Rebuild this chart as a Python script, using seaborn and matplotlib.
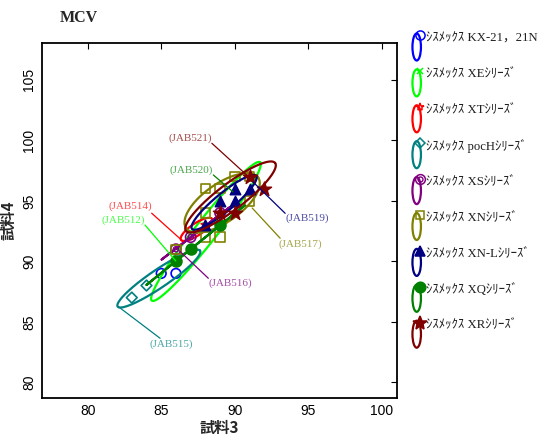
import numpy as np
import matplotlib
matplotlib.use("Agg")
import matplotlib.pyplot as plt
import seaborn as sns
from matplotlib.lines import Line2D
from matplotlib.patches import Ellipse
from matplotlib.transforms import Affine2D

# ---- series ---------------------------------------------------------------
series_keys = ["KX21", "XE", "XT", "pocH", "XS", "XN", "XNL", "XQ", "XR"]
legend_labels = [
    "ｼｽﾒｯｸｽ KX-21，21N",
    "ｼｽﾒｯｸｽ XEｼﾘｰｽﾞ",
    "ｼｽﾒｯｸｽ XTｼﾘｰｽﾞ",
    "ｼｽﾒｯｸｽ pocHｼﾘｰｽﾞ",
    "ｼｽﾒｯｸｽ XSｼﾘｰｽﾞ",
    "ｼｽﾒｯｸｽ XNｼﾘｰｽﾞ",
    "ｼｽﾒｯｸｽ XN-Lｼﾘｰｽﾞ",
    "ｼｽﾒｯｸｽ XQｼﾘｰｽﾞ",
    "ｼｽﾒｯｸｽ XRｼﾘｰｽﾞ",
]
series_colors = ["#0000ff", "#00ff00", "#ff0000", "#008080", "#800080",
                 "#808000", "#000080", "#008000", "#800000"]

# sample 3 / sample 4 values per series
kx21_x = [85, 86]
kx21_y = [89, 89]
xe_x = [87, 89, 88]
xe_y = [91, 93, 93]
xt_x = [88, 89]
xt_y = [93, 93]
poch_x = [83, 84]
poch_y = [87, 88]
xs_x = [86, 87, 89]
xs_y = [91, 92, 94]
xn_x = [86, 88, 89, 88, 88, 89, 90, 91, 91]
xn_y = [91, 92, 92, 94, 96, 96, 97, 95, 97]
xnl_x = [88, 89, 90, 90, 91]
xnl_y = [93, 95, 95, 96, 96]
xq_x = [86, 87, 89]
xq_y = [90, 91, 93]
xr_x = [89, 90, 91, 92]
xr_y = [94, 94, 97, 96]

# confidence ellipses: centre + two conjugate semi-diameters (data units)
ell_keys = ["XE", "XT", "pocH", "XS", "XN", "XNL", "XQ", "XR"]
ell_cx = [88.04, 87.40, 84.84, 87.33, 89.14, 89.27, 87.33, 89.71]
ell_cy = [92.47, 92.64, 88.57, 92.30, 94.83, 94.87, 91.33, 95.32]
ell_ux = [3.68, 1.054, 2.80, 2.30, 2.45, 2.18, 3.33, 3.03]
ell_uy = [5.72, 0.868, 2.31, 2.15, 2.09, 2.19, 3.28, 2.81]
ell_vx = [0.589, 0.229, 0.344, 0.0, 0.742, 0.391, 0.0, 0.537]
ell_vy = [-0.560, -0.411, -0.615, 0.0, -1.289, -0.574, 0.0, -0.855]

# lot annotations
ann_labels = ["(JAB521)", "(JAB520)", "(JAB514)", "(JAB512)",
              "(JAB515)", "(JAB516)", "(JAB519)", "(JAB517)"]
ann_keys = ["XR", "XQ", "XT", "XE", "pocH", "XS", "XNL", "XN"]
ann_tx = [86.96, 87.07, 82.88, 82.42, 85.71, 89.68, 94.90, 94.44]
ann_ty = [100.2, 97.55, 94.58, 93.42, 83.17, 88.19, 93.56, 91.44]
ann_x0 = [88.44, 88.54, 84.35, 83.90, 84.92, 88.20, 93.42, 93.08]
ann_y0 = [99.76, 97.14, 93.98, 93.00, 83.64, 88.60, 93.97, 91.91]
ann_x1 = [90.93, 89.88, 86.50, 85.99, 82.08, 86.05, 91.24, 91.18]
ann_y1 = [97.00, 95.74, 91.63, 90.03, 86.26, 91.08, 96.56, 94.41]

# ---- figure ---------------------------------------------------------------
sns.set_theme(style="white")
plt.rcParams["font.family"] = ["Liberation Sans", "Noto Sans CJK JP"]

W, H = 545, 441
fig = plt.figure(figsize=(W / 100, H / 100), dpi=100)
ax = fig.add_axes([42 / W, 1 - 398 / H, (396.7 - 42) / W, (398 - 43) / H])

color_of = dict(zip(series_keys, series_colors))

# marker styles: (marker, size, filled)
styles = {
    "KX21": ("o", 48, False),
    "XE": ("x", 18, True),
    "XT": ("*", 40, False),
    "pocH": ("D", 30, False),
    "XS": ("o", 55, False),
    "XN": ("s", 46, False),
    "XNL": ("^", 58, True),
    "XQ": ("o", 64, True),
    "XR": ("*", 115, True),
}
data_of = {
    "KX21": (kx21_x, kx21_y), "XE": (xe_x, xe_y), "XT": (xt_x, xt_y),
    "pocH": (poch_x, poch_y), "XS": (xs_x, xs_y), "XN": (xn_x, xn_y),
    "XNL": (xnl_x, xnl_y), "XQ": (xq_x, xq_y), "XR": (xr_x, xr_y),
}

phi = np.linspace(0, 2 * np.pi, 240)
z = 2
for key in series_keys:
    xs, ys = data_of[key]
    mk, s, filled = styles[key]
    col = color_of[key]
    if filled:
        sns.scatterplot(x=xs, y=ys, ax=ax, marker=mk, s=s, color=col,
                        edgecolor=col, linewidth=1.0, zorder=z)
    else:
        ax.scatter(xs, ys, marker=mk, s=s, facecolors="none",
                   edgecolors=col, linewidths=1.2, zorder=z)
    if key == "XS":
        ax.scatter(xs, ys, marker="o", s=14, facecolors="none",
                   edgecolors=col, linewidths=1.0, zorder=z)
    if key in ell_keys:
        i = ell_keys.index(key)
        ex = ell_cx[i] + ell_ux[i] * np.cos(phi) + ell_vx[i] * np.sin(phi)
        ey = ell_cy[i] + ell_uy[i] * np.cos(phi) + ell_vy[i] * np.sin(phi)
        ax.plot(ex, ey, color=col, lw=1.6, zorder=z + 0.5)
    z += 1

for i, lab in enumerate(ann_labels):
    col = color_of[ann_keys[i]]
    ax.plot([ann_x0[i], ann_x1[i]], [ann_y0[i], ann_y1[i]], color=col,
            lw=0.9, zorder=20)
    ax.text(ann_tx[i], ann_ty[i], lab, color=col, alpha=0.7, fontsize=8,
            family=["Liberation Serif", "Noto Sans CJK JP"],
            ha="center", va="center", zorder=21)

ax.set_xlim(76.9, 101.0)
ax.set_ylim(78.7, 108.05)
ax.set_xticks([80, 85, 90, 95, 100])
ax.set_yticks([80, 85, 90, 95, 100, 105])
ax.tick_params(direction="in", length=4, width=0.8, top=True, right=True,
               labelsize=10, colors="black", pad=4)
for lbl in ax.get_yticklabels():
    lbl.set_rotation(90)
    lbl.set_va("center")
for sp in ax.spines.values():
    sp.set_color("black")
    sp.set_linewidth(1.3)

ax.set_xlabel("試料3", fontsize=11, fontweight="bold",
              family=["Noto Sans CJK JP"], labelpad=2)
ax.set_ylabel("試料4", fontsize=11, fontweight="bold",
              family=["Noto Sans CJK JP"], labelpad=4)

pix = Affine2D().scale(1, -1).translate(0, H)
fig.text(60, 18, "MCV", transform=pix, fontsize=11.5, fontweight="bold",
         family=["Liberation Serif"], ha="left", va="center")

# ---- legend (ellipse glyph with marker on top) ----------------------------
for i, key in enumerate(series_keys):
    ty = 38.3 + 35.9 * i
    col = color_of[key]
    fig.add_artist(Ellipse((416.7, ty + 8.7), 8.5, 27, transform=pix,
                           fill=False, edgecolor=col, lw=1.6))
    mk, s, filled = styles[key]
    ms = np.sqrt(s) * 0.95
    fig.add_artist(Line2D([419.5], [ty - 3], transform=pix, marker=mk,
                          markersize=ms, color=col,
                          markerfacecolor=col if filled else "none",
                          markeredgewidth=1.1, linestyle="none"))
    if key == "XS":
        fig.add_artist(Line2D([419.5], [ty - 3], transform=pix, marker="o",
                              markersize=3.6, color=col,
                              markerfacecolor="none", markeredgewidth=1.0,
                              linestyle="none"))
    fig.text(426.5, ty, legend_labels[i], transform=pix, fontsize=9.2,
             family=["Liberation Serif", "Noto Sans CJK JP"],
             ha="left", va="center", color="#202020")

fig.savefig("out.png", dpi=100)
